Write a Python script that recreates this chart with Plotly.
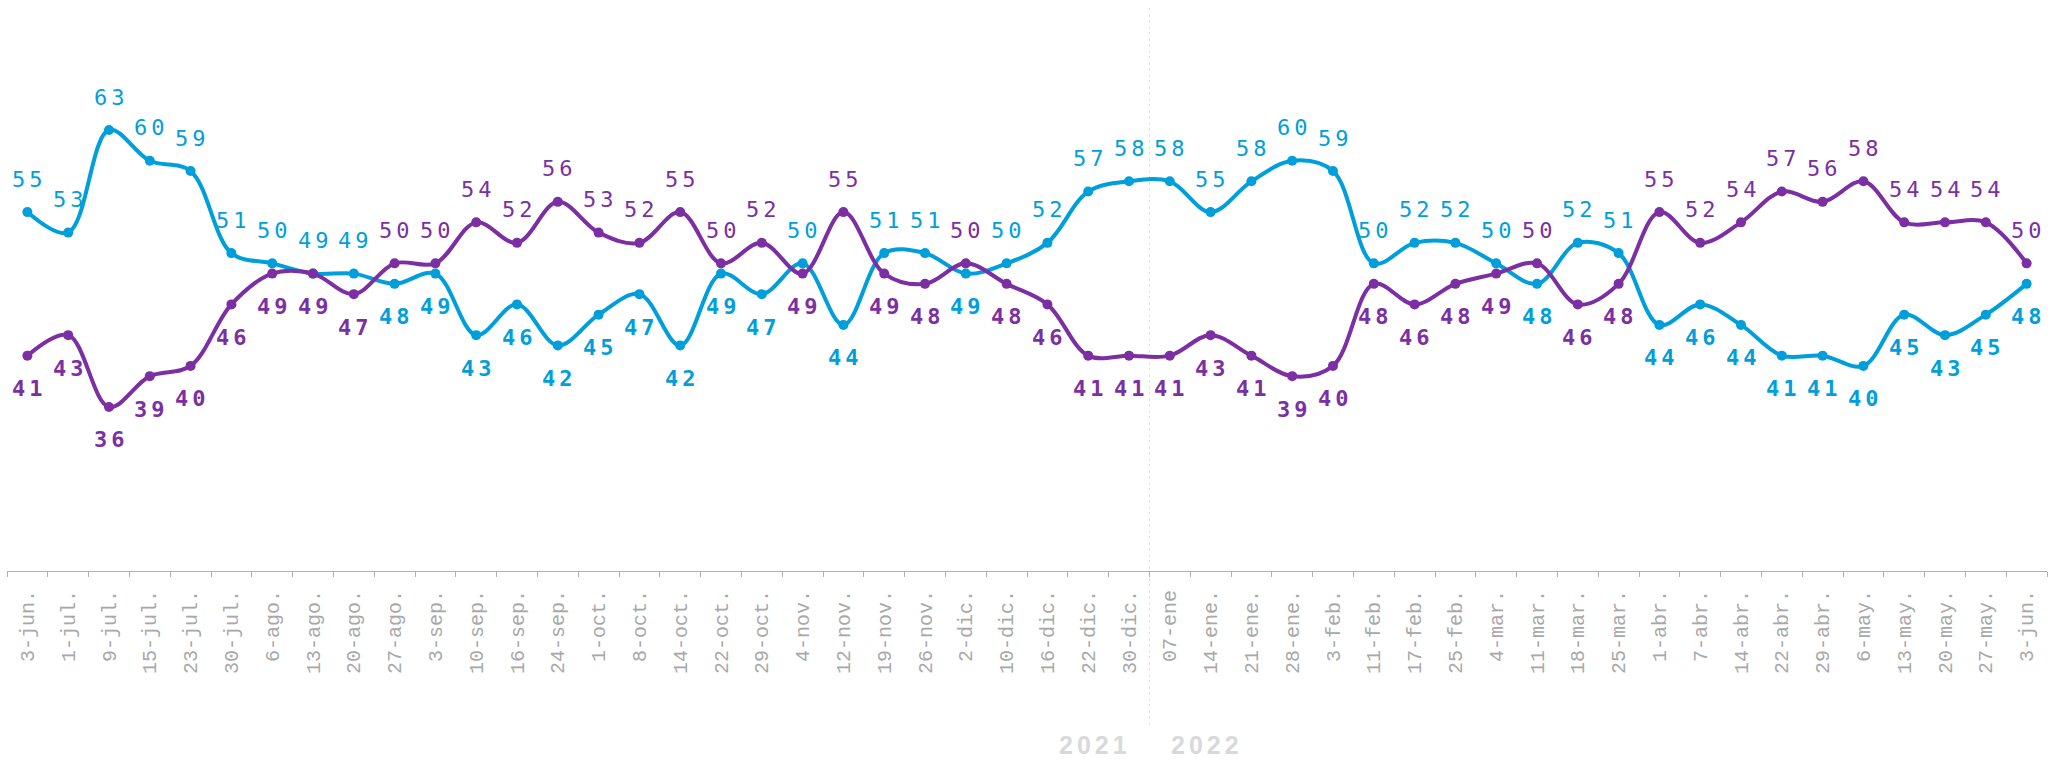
import plotly.graph_objects as go

fechas = ["3-jun.", "1-jul.", "9-jul.", "15-jul.", "23-jul.", "30-jul.", "6-ago.", "13-ago.",
          "20-ago.", "27-ago.", "3-sep.", "10-sep.", "16-sep.", "24-sep.", "1-oct.", "8-oct.",
          "14-oct.", "22-oct.", "29-oct.", "4-nov.", "12-nov.", "19-nov.", "26-nov.", "2-dic.",
          "10-dic.", "16-dic.", "22-dic.", "30-dic.", "07-ene", "14-ene.", "21-ene.", "28-ene.",
          "3-feb.", "11-feb.", "17-feb.", "25-feb.", "4-mar.", "11-mar.", "18-mar.", "25-mar.",
          "1-abr.", "7-abr.", "14-abr.", "22-abr.", "29-abr.", "6-may.", "13-may.", "20-may.",
          "27-may.", "3-jun."]

serie_azul = [55, 53, 63, 60, 59, 51, 50, 49, 49, 48, 49, 43, 46, 42, 45, 47, 42, 49, 47, 50,
              44, 51, 51, 49, 50, 52, 57, 58, 58, 55, 58, 60, 59, 50, 52, 52, 50, 48, 52, 51,
              44, 46, 44, 41, 41, 40, 45, 43, 45, 48]

serie_morada = [41, 43, 36, 39, 40, 46, 49, 49, 47, 50, 50, 54, 52, 56, 53, 52, 55, 50, 52, 49,
                55, 49, 48, 50, 48, 46, 41, 41, 41, 43, 41, 39, 40, 48, 46, 48, 49, 50, 46, 48,
                55, 52, 54, 57, 56, 58, 54, 54, 54, 50]

anios = ["2021", "2022"]

AZUL = "#009fdc"
MORADO = "#7b2fa3"
idx = list(range(len(fechas)))

fig = go.Figure()
fig.add_trace(go.Scatter(x=idx, y=serie_azul, mode="lines+markers", name="Serie azul",
                         line=dict(color=AZUL, width=4, shape="spline", smoothing=1),
                         marker=dict(size=10, color=AZUL), hoverinfo="skip"))
fig.add_trace(go.Scatter(x=idx, y=serie_morada, mode="lines+markers", name="Serie morada",
                         line=dict(color=MORADO, width=4, shape="spline", smoothing=1),
                         marker=dict(size=10, color=MORADO), hoverinfo="skip"))

annotations = []
for i in idx:
    a, m = serie_azul[i], serie_morada[i]
    azul_arriba = a >= m
    for val, col, arriba in ((a, AZUL, azul_arriba), (m, MORADO, not azul_arriba)):
        annotations.append(dict(
            x=i, y=val, xref="x", yref="y", text=str(val), showarrow=False,
            yshift=33 if arriba else -33, xshift=2,
            font=dict(family="DejaVu Sans Mono", size=22, color=col,
                      weight=500 if arriba else "bold")))

for k, (txt, dx) in enumerate(zip(anios, (-54, 58))):
    annotations.append(dict(x=27.5, y=-0.309, xref="x", yref="paper", text=txt, showarrow=False,
                            xshift=dx, yanchor="middle",
                            font=dict(family="Liberation Sans", size=25, color="#d9d9d9",
                                      weight="bold")))

fig.add_shape(type="line", x0=27.5, x1=27.5, xref="x", y0=-0.273, y1=1, yref="paper",
              line=dict(color="#e2e2e2", width=1, dash="dot"), layer="below")

fig.update_layout(
    width=2061, height=763,
    margin=dict(l=7, r=14, t=7, b=192),
    plot_bgcolor="white", paper_bgcolor="white",
    showlegend=False,
    annotations=annotations,
    xaxis=dict(range=[-0.5, len(fechas) - 0.5], tickmode="array", tickvals=idx, ticktext=fechas,
               tickangle=-90, ticks="", showgrid=False, zeroline=False,
               showline=True, linecolor="#b0b0b0", linewidth=1,
               tickfont=dict(family="Liberation Mono", size=20, color="#a8a8a8"),
               ticklabelstandoff=10,
               minor=dict(tickmode="linear", tick0=-0.5, dtick=1, ticks="outside",
                          ticklen=5, tickcolor="#b0b0b0", tickwidth=1, showgrid=False)),
    yaxis=dict(range=[20, 75], visible=False, showgrid=False, zeroline=False),
)

post = """
document.body.style.margin = '0';
document.body.style.overflow = 'hidden';
document.querySelectorAll('.annotation-text').forEach(function (t) {
  t.style.letterSpacing = '4px';
});
"""

fig.write_html("out.html", post_script=post, config={"displayModeBar": False})
